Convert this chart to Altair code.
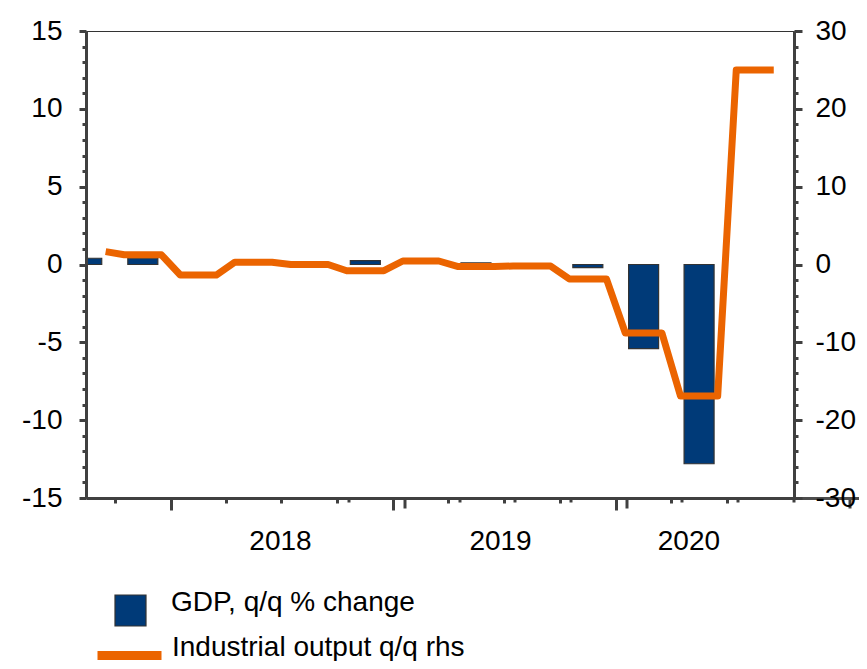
import altair as alt
import pandas as pd

# ---------------- data ----------------
gdp_quarters = ["2017Q3", "2017Q4", "2018Q1", "2018Q2", "2018Q3", "2018Q4",
                "2019Q1", "2019Q2", "2019Q3", "2019Q4", "2020Q1", "2020Q2"]
gdp_values = [0.4, 0.4, 0.0, 0.0, 0.0, 0.25, 0.0, 0.1, 0.0, -0.2, -5.4, -12.8]

ip_months = ["2017-09", "2017-10", "2017-11", "2017-12",
             "2018-01", "2018-02", "2018-03", "2018-04", "2018-05", "2018-06",
             "2018-07", "2018-08", "2018-09", "2018-10", "2018-11", "2018-12",
             "2019-01", "2019-02", "2019-03", "2019-04", "2019-05", "2019-06",
             "2019-07", "2019-08", "2019-09", "2019-10", "2019-11", "2019-12",
             "2020-01", "2020-02", "2020-03", "2020-04", "2020-05", "2020-06",
             "2020-07", "2020-08", "2020-09"]
ip_values = [1.65, 1.25, 1.25, 1.25,
             -1.35, -1.35, -1.35, 0.3, 0.3, 0.3,
             0.0, 0.0, 0.0, -0.8, -0.8, -0.8,
             0.45, 0.45, 0.45, -0.25, -0.25, -0.25,
             -0.2, -0.2, -0.2, -1.85, -1.85, -1.85,
             -8.8, -8.8, -8.8, -16.9, -16.9, -16.9,
             25.0, 25.0, 25.0]

tick_quarters = ["2017Q4", "2018Q1", "2018Q2", "2018Q3", "2018Q4", "2019Q1",
                 "2019Q2", "2019Q3", "2019Q4", "2020Q1", "2020Q2", "2020Q3"]
year_label_anchors = ["2018-06-29", "2019-06-25", "2020-04-29"]
x_domain = ["2017-08-23", "2020-10-11"]
left_ticks = list(range(-15, 16))
right_ticks = list(range(-30, 31, 2))

series_gdp = "GDP, q/q % change"
series_ip = "Industrial output q/q rhs"

# ---------------- styling ----------------
FONT = "Liberation Sans, Arial, sans-serif"
FS = 28
BLUE = "#003a78"
ORANGE = "#eb6400"
AXIS = "#404040"
W, H = 708, 467


def mid(period):
    s, e = period.start_time, period.end_time
    return (s + (e - s) / 2).strftime("%Y-%m-%dT%H:%M:%S")


def dt(s):
    t = pd.Timestamp(s)
    return alt.DateTime(year=t.year, month=t.month, date=t.day)


gdp_df = pd.DataFrame({
    "date": [mid(pd.Period(q, "Q")) for q in gdp_quarters],
    "gdp": gdp_values,
    "series": series_gdp,
})
ip_df = pd.DataFrame({
    "date": [mid(pd.Period(m, "M")) for m in ip_months],
    "ip": ip_values,
    "series": series_ip,
})

tick_values = [dt(pd.Period(q, "Q").start_time) for q in tick_quarters]
label_values = [dt(d) for d in year_label_anchors]
xscale = alt.Scale(domain=[dt(x_domain[0]), dt(x_domain[1])])

bottom_axis = alt.Axis(
    orient="bottom", values=tick_values, title=None, labels=False,
    tickSize={"condition": {"test": "month(datum.value) == 0", "value": 12}, "value": 5},
    tickWidth=3, tickColor=AXIS,
    domainColor=AXIS, domainWidth=3, grid=False, zindex=1,
)
label_axis = alt.Axis(
    orient="bottom", values=label_values, title=None,
    ticks=False, tickSize=0, domain=False, grid=False,
    labelExpr="timeFormat(datum.value, '%Y')",
    labelFont=FONT, labelFontSize=FS, labelColor="black", labelPadding=29,
    labelOverlap=False, labelFlush=False, zindex=1,
)
zero_axis = alt.Axis(
    orient="bottom", position=H / 2, values=tick_values, title=None,
    labels=False,
    tickSize={"condition": {"test": "month(datum.value) == 0", "value": 10}, "value": 4},
    tickWidth=3, tickColor=AXIS, domainColor="#4d4d4d", domainWidth=3,
    grid=False, zindex=0,
)
left_axis = alt.Axis(
    orient="left", values=left_ticks, title=None,
    labelExpr="datum.value % 5 == 0 ? '' + datum.value : ''",
    tickSize={"condition": {"test": "datum.value % 5 == 0", "value": 7}, "value": 4},
    tickWidth=3, tickColor=AXIS, domainColor=AXIS, domainWidth=3, grid=False,
    labelFont=FONT, labelFontSize=FS, labelColor="black", labelPadding=17,
    labelOverlap=False, labelFlush=False, zindex=1,
)
right_axis = alt.Axis(
    orient="right", values=right_ticks, title=None,
    labelExpr="datum.value % 10 == 0 ? '' + datum.value : ''",
    tickSize={"condition": {"test": "datum.value % 10 == 0", "value": 8}, "value": 4},
    tickWidth=3, tickColor=AXIS, domainColor=AXIS, domainWidth=3, grid=False,
    labelFont=FONT, labelFontSize=FS, labelColor="black", labelPadding=13,
    labelOverlap=False, labelFlush=False, zindex=1,
)

zero_layer = alt.Chart(gdp_df).mark_tick(opacity=0).encode(
    x=alt.X("date:T", scale=xscale, axis=zero_axis),
)
label_layer = alt.Chart(gdp_df).mark_tick(opacity=0).encode(
    x=alt.X("date:T", scale=xscale, axis=label_axis),
)

bars = alt.Chart(gdp_df).transform_filter("datum.gdp != 0").mark_bar(
    size=30, clip=True, stroke="#333333", strokeWidth=1.2
).encode(
    x=alt.X("date:T", scale=xscale, axis=bottom_axis),
    y=alt.Y("gdp:Q", scale=alt.Scale(domain=[-15, 15], nice=False, zero=False), axis=left_axis),
    fill=alt.Fill("series:N", scale=alt.Scale(domain=[series_gdp], range=[BLUE]),
                  legend=alt.Legend(orient="none", legendX=28, legendY=563, title=None,
                                    symbolType="square", symbolSize=961,
                                    symbolStrokeColor="#333333", symbolStrokeWidth=1.2,
                                    labelFont=FONT, labelFontSize=FS, labelColor="black",
                                    labelOffset=24, labelLimit=600, labelBaseline="alphabetic",
                                    padding=0)),
)

line = alt.Chart(ip_df).mark_line(strokeWidth=7, strokeJoin="round", strokeCap="butt").encode(
    x=alt.X("date:T", scale=xscale, axis=None),
    y=alt.Y("ip:Q", scale=alt.Scale(domain=[-30, 30], nice=False, zero=False), axis=right_axis),
    stroke=alt.Stroke("series:N", scale=alt.Scale(domain=[series_ip], range=[ORANGE]),
                      legend=alt.Legend(orient="none", legendX=7, legendY=588, title=None,
                                        symbolType="stroke", symbolSize=4096, symbolStrokeWidth=9,
                                        labelFont=FONT, labelFontSize=FS, labelColor="black",
                                        labelOffset=6, labelLimit=600, labelBaseline="alphabetic",
                                        padding=0)),
)

chart = alt.layer(zero_layer, label_layer, bars, line).resolve_scale(
    y="independent"
).resolve_axis(
    x="independent"
).properties(
    width=W, height=H,
    autosize=alt.AutoSizeParams(type="none"),
    padding={"left": 78, "top": 23, "right": 65, "bottom": 163},
    background="white",
).configure_view(stroke="#333333", strokeWidth=1)

chart.save("out.html", embed_options={"renderer": "svg", "actions": False})
